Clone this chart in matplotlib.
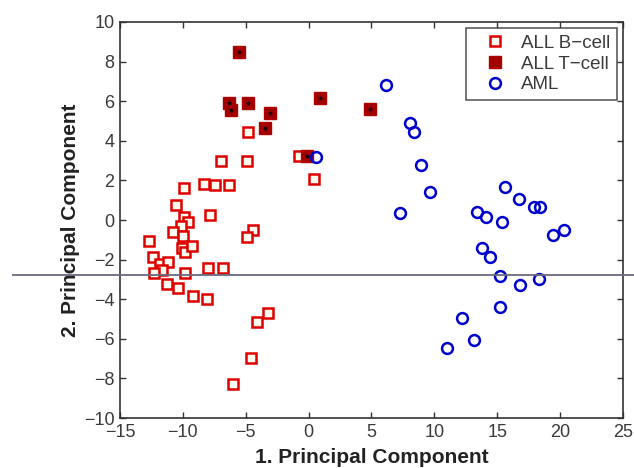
import matplotlib
matplotlib.use("Agg")
import matplotlib.pyplot as plt
from matplotlib.lines import Line2D
import numpy as np

plt.rcParams['font.family'] = ['Liberation Sans', 'DejaVu Sans']

# ALL B-cell samples (open squares)
bcell_x = [-4.8, -7.0, -4.9, 0.45, -0.8, -9.95, -8.3, -7.45, -6.3, -7.85,
           -4.4, -4.9, -10.55, -9.9, -9.6, -10.15, -10.8, -10.0, -10.05, -9.8,
           -9.25, -12.67, -12.35, -11.85, -11.2, -11.7, -12.27, -9.83, -8.0, -6.83,
           -11.27, -10.4, -9.17, -8.1, -3.2, -4.13, -4.58, -5.99]
bcell_y = [4.43, 2.98, 2.98, 2.05, 3.23, 1.62, 1.82, 1.77, 1.77, 0.25,
           -0.5, -0.84, 0.78, 0.15, -0.08, -0.3, -0.6, -0.8, -1.43, -1.6,
           -1.3, -1.05, -1.88, -2.2, -2.12, -2.5, -2.68, -2.69, -2.42, -2.42,
           -3.22, -3.45, -3.85, -4.0, -4.71, -5.17, -6.99, -8.28]

# ALL T-cell samples (filled squares)
tcell_x = [-5.5, -6.3, -6.2, -4.8, -3.1, -3.5, 0.9, 4.9, -0.1]
tcell_y = [8.47, 5.89, 5.56, 5.92, 5.39, 4.63, 6.15, 5.6, 3.25]

# AML samples (open circles)
aml_x = [6.15, 8.06, 8.41, 8.91, 9.65, 7.27, 15.6, 16.73, 17.92, 18.4,
         13.36, 14.1, 15.4, 19.46, 20.33, 13.76, 14.42, 15.22, 16.81, 18.32,
         15.22, 12.22, 13.18, 10.98, 0.6]
aml_y = [6.82, 4.88, 4.46, 2.78, 1.43, 0.34, 1.65, 1.04, 0.64, 0.67,
         0.42, 0.17, -0.08, -0.76, -0.51, -1.43, -1.85, -2.83, -3.28, -3.0,
         -4.38, -4.93, -6.06, -6.45, 3.17]

xticks = np.arange(-15, 26, 5)
yticks = np.arange(-10, 11, 2)

fig = plt.figure(figsize=(6.34, 4.68), dpi=100)
ax = fig.add_axes([0.1893, 0.1068, 0.7933, 0.8462])

ax.plot(bcell_x, bcell_y, 's', ms=7, mfc='#fffdf0', mec='#dd0000', mew=1.8,
        linestyle='none', label='ALL B\u2212cell')
ax.plot(tcell_x, tcell_y, 's', ms=8, mfc='#a00000', mec='#b00000', mew=1.0,
        linestyle='none', label='ALL T\u2212cell')
ax.plot(tcell_x, tcell_y, '.', ms=3.5, color='#200000', linestyle='none')
ax.plot(aml_x, aml_y, 'o', ms=7.8, mfc='none', mec='#0000cc', mew=1.8,
        linestyle='none', label='AML')

ax.set_xlim(-15, 25)
ax.set_ylim(-10, 10)
ax.set_xticks(xticks)
ax.set_yticks(yticks)
ax.set_xticklabels([str(v).replace('-', '\u2212') for v in xticks])
ax.set_yticklabels([str(v).replace('-', '\u2212') for v in yticks])
ax.tick_params(direction='in', top=True, right=True, length=4, width=1,
               colors='#333333', labelsize=13, labelcolor='#3a3a3a', pad=4)
for sp in ax.spines.values():
    sp.set_color('#333333')
    sp.set_linewidth(1.2)

ax.set_xlabel('1. Principal Component', fontsize=15, fontweight='bold',
              color='#222222', labelpad=5)
ax.set_ylabel('2. Principal Component', fontsize=15, fontweight='bold',
              color='#222222', labelpad=3)

leg = ax.legend(loc='upper right', fontsize=13.5, frameon=True, fancybox=False,
                edgecolor='#333333', borderpad=0.35, labelspacing=0.2,
                handletextpad=0.2, handlelength=2.4, borderaxespad=0.32)
leg.get_frame().set_linewidth(1.2)
for t in leg.get_texts():
    t.set_color('#3a3a3a')

# stray horizontal rule across the whole picture
fig.add_artist(Line2D([0.0205, 1.0], [0.4124, 0.4124], color='#6a6a80', lw=1.3))

fig.savefig('out.png', dpi=100)
